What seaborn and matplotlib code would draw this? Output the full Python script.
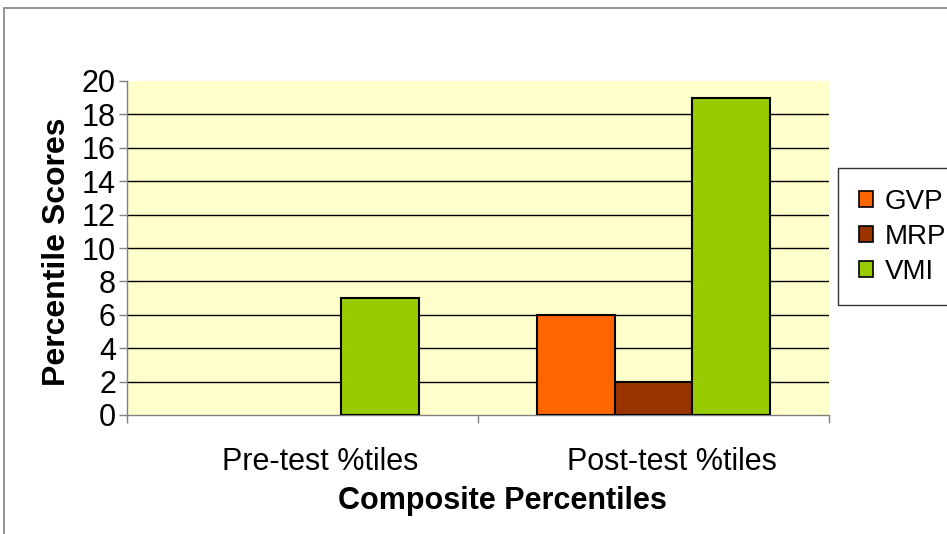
import matplotlib
matplotlib.use("Agg")
import matplotlib.pyplot as plt
import matplotlib.transforms as mtransforms
import seaborn as sns
import pandas as pd
from matplotlib.lines import Line2D

categories = ["Pre-test %tiles", "Post-test %tiles"]
series = ["GVP", "MRP", "VMI"]
gvp = [0, 6]
mrp = [0, 2]
vmi = [7, 19]
colors = ["#FF6600", "#993300", "#99CC00"]
y_ticks = list(range(0, 21, 2))

df = pd.DataFrame({
    "Phase": categories * 3,
    "Test": [s for s in series for _ in categories],
    "Score": gvp + mrp + vmi,
})

sns.set_theme(style="white")
plt.rcParams["font.family"] = ["Liberation Sans", "DejaVu Sans"]
for key in ["text.color", "axes.labelcolor", "xtick.labelcolor", "ytick.labelcolor"]:
    plt.rcParams[key] = "black"

fig = plt.figure(figsize=(9.47, 5.34), dpi=100)
W, H = 947, 534
ax = fig.add_axes([127 / W, 1 - 415 / H, (829 - 127) / W, (415 - 81) / H])
ax.set_facecolor("#FFFFCC")

sns.barplot(data=df, x="Phase", y="Score", hue="Test", order=categories,
            hue_order=series, palette=colors, width=0.664, ax=ax,
            edgecolor="black", linewidth=1.5, saturation=1, legend=True,
            zorder=3)
# empty bars leave no outline on the axis
for p in ax.patches:
    if p.get_height() == 0:
        p.set_linewidth(0)

ax.set_ylim(0, 20)
ax.set_xlim(-0.5, 1.5)
ax.set_yticks(y_ticks)
ax.set_yticklabels([str(t) for t in y_ticks], fontsize=22)
ax.tick_params(axis="y", length=6, width=1, color="#808080", direction="out", pad=2, left=True)
ax.tick_params(axis="x", which="major", length=0, pad=23, labelsize=22)
ax.set_xticks([-0.5, 0.5, 1.5], minor=True)
ax.tick_params(axis="x", which="minor", length=6, width=1, color="#808080", direction="out", bottom=True)
shift = mtransforms.ScaledTranslation(18 / 100, 0, fig.dpi_scale_trans)
for lbl in ax.get_xticklabels():
    lbl.set_transform(lbl.get_transform() + shift)
for y in y_ticks[1:-1]:
    ax.axhline(y, color="black", linewidth=1, zorder=1)

for side in ["top", "right"]:
    ax.spines[side].set_visible(False)
ax.spines["left"].set_color("#808080")
ax.spines["bottom"].set_color("#808080")
ax.spines["left"].set_linewidth(1)
ax.spines["bottom"].set_linewidth(1)

ax.set_ylabel("Percentile Scores", fontsize=23, fontweight="bold")
ax.yaxis.set_label_coords((57 - 127) / (829 - 127), 0.49)
ax.set_xlabel("Composite Percentiles", fontsize=22, fontweight="bold")
ax.xaxis.set_label_coords((502 - 127) / (829 - 127), -(501 - 415) / (415 - 81))
ax.xaxis.label.set_va("center")
ax.yaxis.label.set_va("center")

# Legend box on the right
handles, labels = ax.get_legend_handles_labels()
ax.get_legend().remove()
leg = fig.legend(handles, labels, loc="upper left",
                 bbox_to_anchor=(838 / W, 1 - 168 / H), fontsize=20,
                 frameon=True, fancybox=False, edgecolor="black",
                 handlelength=0.5, handleheight=0.5, handletextpad=0.43,
                 labelspacing=0.32, borderpad=0.75, borderaxespad=0)
leg.get_frame().set_linewidth(1)
leg.get_frame().set_facecolor("white")
for h in leg.legend_handles:
    h.set_linewidth(1.2)

# Outer chart-area border
fig.add_artist(Line2D([4 / W, 4 / W], [0, 1 - 8 / H], transform=fig.transFigure,
                      color="#808080", linewidth=1.2))
fig.add_artist(Line2D([4 / W, 1], [1 - 8 / H, 1 - 8 / H], transform=fig.transFigure,
                      color="#808080", linewidth=1.2))

fig.savefig("out.png", dpi=100)
